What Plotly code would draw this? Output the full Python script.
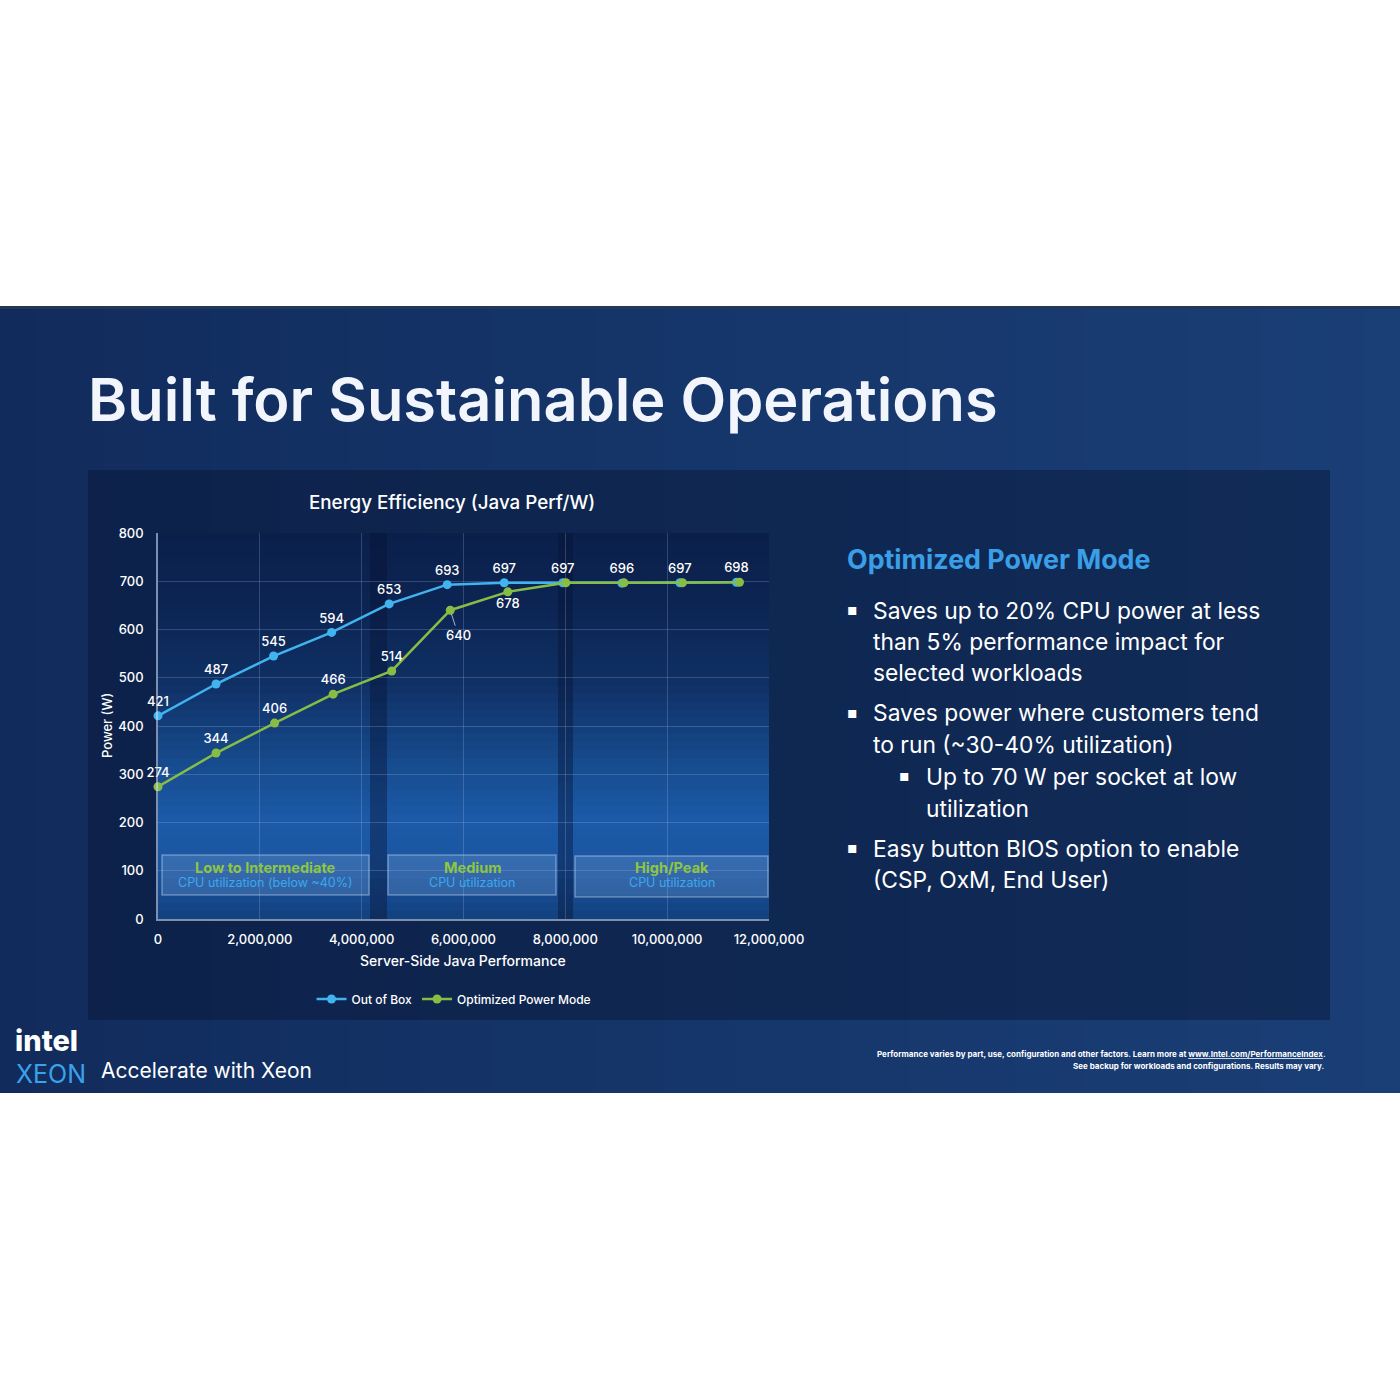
import plotly.graph_objects as go

# ---------------- data ----------------
x_out_of_box = [0, 1140000, 2270000, 3410000, 4540000, 5680000, 6800000, 7950000, 9110000, 10250000, 11360000]
y_out_of_box = [421, 487, 545, 594, 653, 693, 697, 697, 696, 697, 698]
x_opm = [0, 1140000, 2290000, 3440000, 4590000, 5740000, 6870000, 8010000, 9150000, 10300000, 11420000]
y_opm = [274, 344, 406, 466, 514, 640, 678, 697, 697, 697, 698]
opm_labels_shown = 7          # only first seven green values are labelled in the original
series_names = ["Out of Box", "Optimized Power Mode"]
x_ticks = [0, 2000000, 4000000, 6000000, 8000000, 10000000, 12000000]
y_ticks = [0, 100, 200, 300, 400, 500, 600, 700, 800]
regions = [
    ("Low to Intermediate", "CPU utilization (below ~40%)"),
    ("Medium", "CPU utilization"),
    ("High/Peak", "CPU utilization"),
]
bullets = [
    (0, ["Saves up to 20% CPU power at less", "than 5% performance impact for", "selected workloads"]),
    (0, ["Saves power where customers tend", "to run (~30-40% utilization)"]),
    (1, ["Up to 70 W per socket at low", "utilization"]),
    (0, ["Easy button BIOS option to enable", "(CSP, OxM, End User)"]),
]

W = H = 1400
BLUE = "#41b4ef"
GREEN = "#88bd45"
FONT = "Inter"


def X(p):
    return p / W


def Y(p):
    return 1 - p / H


def hex2rgb(h):
    h = h.lstrip("#")
    return tuple(int(h[i:i + 2], 16) for i in (0, 2, 4))


def interp(stops, t):
    for (t0, c0), (t1, c1) in zip(stops, stops[1:]):
        if t0 <= t <= t1:
            f = 0 if t1 == t0 else (t - t0) / (t1 - t0)
            a, b = hex2rgb(c0), hex2rgb(c1)
            return "rgb(%d,%d,%d)" % tuple(round(a[i] + (b[i] - a[i]) * f) for i in range(3))
    return stops[-1][1]


shapes = []

# slide background (horizontal gradient)
slide_top, slide_bot = 306, 1093
hstops = [(0, "#112b5c"), (700, "#15366a"), (1400, "#1a3e76")]
N = 40
for i in range(N):
    x0 = i * W / N
    x1 = (i + 1) * W / N + 1
    shapes.append(dict(type="rect", xref="paper", yref="paper", x0=X(x0), x1=X(min(x1, W)),
                       y0=Y(slide_bot), y1=Y(slide_top), fillcolor=interp(hstops, (x0 + x1) / 2),
                       line=dict(width=0), layer="below"))
shapes.append(dict(type="rect", xref="paper", yref="paper", x0=0, x1=1, y0=Y(309), y1=Y(306),
                   fillcolor="#23375a", line=dict(width=0), layer="below"))
# darker content panel
shapes.append(dict(type="rect", xref="paper", yref="paper", x0=X(88), x1=X(1330), y0=Y(1020), y1=Y(470),
                   fillcolor="rgba(6,18,48,0.42)", line=dict(width=0), layer="below"))

# plot area vertical gradient
ptop, pbot, pl, pr = 533, 919, 158, 769
vstops = [(533, "#0b1f4b"), (600, "#0c2452"), (680, "#0f2f63"), (760, "#164a8c"),
          (820, "#1c5aa8"), (870, "#1a55a0"), (919, "#12407e")]
M = 48
for i in range(M):
    y0 = ptop + i * (pbot - ptop) / M
    y1 = ptop + (i + 1) * (pbot - ptop) / M + 1
    shapes.append(dict(type="rect", xref="paper", yref="paper", x0=X(pl), x1=X(pr),
                       y0=Y(min(y1, pbot)), y1=Y(y0), fillcolor=interp(vstops, (y0 + y1) / 2),
                       line=dict(width=0), layer="below"))
# dark separator strips between utilisation zones
for a, b in [(370, 387), (558, 573)]:
    shapes.append(dict(type="rect", xref="paper", yref="paper", x0=X(a), x1=X(b), y0=Y(pbot), y1=Y(ptop),
                       fillcolor="rgba(6,20,52,0.42)", line=dict(width=0), layer="below"))

# region label boxes
boxes = [(162, 369, 855, 895), (388, 556, 855, 895), (575, 768, 856, 897)]
annotations = []
for (bx0, bx1, by0, by1), (t1, t2) in zip(boxes, regions):
    shapes.append(dict(type="rect", xref="paper", yref="paper", x0=X(bx0), x1=X(bx1), y0=Y(by1), y1=Y(by0),
                       fillcolor="rgba(150,180,225,0.22)", line=dict(color="rgba(190,210,240,0.45)", width=1.5),
                       layer="above"))
    cx = (bx0 + bx1) / 2
    annotations.append(dict(xref="paper", yref="paper", x=X(cx), y=Y(867), text=t1, showarrow=False,
                            font=dict(family=FONT, size=14.5, color="#8fc640", weight=700),
                            xanchor="center", yanchor="middle"))
    annotations.append(dict(xref="paper", yref="paper", x=X(cx), y=Y(883), text=t2, showarrow=False,
                            font=dict(family=FONT, size=12.5, color="#3aa8ef", weight=400),
                            xanchor="center", yanchor="middle"))

fig = go.Figure()
fig.add_trace(go.Scatter(
    x=x_out_of_box, y=y_out_of_box, name=series_names[0], mode="lines+markers+text",
    line=dict(color=BLUE, width=2.5), marker=dict(color=BLUE, size=9),
    text=[str(v) for v in y_out_of_box], textposition="top center",
    textfont=dict(family=FONT, size=13, color="white", weight=500), cliponaxis=False))

green_text = []
green_pos = []
for i, v in enumerate(y_opm):
    if i < opm_labels_shown and i != 5:
        green_text.append(str(v))
    else:
        green_text.append("")
    green_pos.append("top center" if i < 5 else "bottom center")
fig.add_trace(go.Scatter(
    x=x_opm, y=y_opm, name=series_names[1], mode="lines+markers+text",
    line=dict(color=GREEN, width=2.5), marker=dict(color=GREEN, size=9),
    text=green_text, textposition=green_pos,
    textfont=dict(family=FONT, size=13, color="white", weight=500), cliponaxis=False))

# 640 label with leader line
annotations.append(dict(x=x_opm[5], y=y_opm[5], xref="x", yref="y", text=str(y_opm[5]), showarrow=True,
                        arrowhead=0, arrowwidth=1, arrowcolor="rgba(200,215,235,0.8)", ax=8, ay=25, standoff=4,
                        font=dict(family=FONT, size=13, color="white", weight=500)))

# titles and texts
annotations += [
    dict(xref="paper", yref="paper", x=X(86), y=Y(399), text="Built for Sustainable Operations", showarrow=False,
         xanchor="left", yanchor="middle", font=dict(family=FONT, size=59.5, color="#f2f5fb", weight=600)),
    dict(xref="paper", yref="paper", x=X(452), y=Y(503), text="Energy Efficiency (Java Perf/W)", showarrow=False,
         xanchor="center", yanchor="middle", font=dict(family=FONT, size=18.8, color="white", weight=500)),
    dict(xref="paper", yref="paper", x=X(107), y=Y(726), text="Power (W)", showarrow=False, textangle=-90,
         xanchor="center", yanchor="middle", font=dict(family=FONT, size=13, color="white", weight=500)),
    dict(xref="paper", yref="paper", x=X(463), y=Y(960), text="Server-Side Java Performance", showarrow=False,
         xanchor="center", yanchor="middle", font=dict(family=FONT, size=14, color="white", weight=500)),
    dict(xref="paper", yref="paper", x=X(845), y=Y(559), text="Optimized Power Mode", showarrow=False,
         xanchor="left", yanchor="middle", font=dict(family=FONT, size=26.8, color="#3a9fe6", weight=700)),
]

line_y = [610, 641, 673, 713, 744, 776, 808, 848, 879]
k = 0
for level, lines in bullets:
    bx = 852 if level == 0 else 904
    tx = 871 if level == 0 else 924
    for j, ln in enumerate(lines):
        if j == 0:
            annotations.append(dict(xref="paper", yref="paper", x=X(bx), y=Y(line_y[k] - 1), text="▪",
                                    showarrow=False, xanchor="center", yanchor="middle",
                                    font=dict(family="DejaVu Sans", size=16, color="white")))
        annotations.append(dict(xref="paper", yref="paper", x=X(tx), y=Y(line_y[k]), text=ln, showarrow=False,
                                xanchor="left", yanchor="middle",
                                font=dict(family=FONT, size=22.8, color="white", weight=400)))
        k += 1

annotations += [
    dict(xref="paper", yref="paper", x=X(1328), y=Y(1054),
         text="Performance varies by part, use, configuration and other factors. Learn more at <u>www.Intel.com/PerformanceIndex</u>.",
         showarrow=False, xanchor="right", yanchor="middle",
         font=dict(family=FONT, size=8, color="white", weight=700)),
    dict(xref="paper", yref="paper", x=X(1326), y=Y(1066),
         text="See backup for workloads and configurations. Results may vary.",
         showarrow=False, xanchor="right", yanchor="middle",
         font=dict(family=FONT, size=8, color="white", weight=700)),
    dict(xref="paper", yref="paper", x=X(13), y=Y(1060), text="intel", showarrow=False,
         xanchor="left", yanchor="bottom", font=dict(family=FONT, size=29, color="white", weight=800)),
    dict(xref="paper", yref="paper", x=X(14), y=Y(1057), text="XEON", showarrow=False,
         xanchor="left", yanchor="top", font=dict(family=FONT, size=25, color="#3aa2ea", weight=400)),
    dict(xref="paper", yref="paper", x=X(99), y=Y(1070), text="Accelerate with Xeon", showarrow=False,
         xanchor="left", yanchor="middle", font=dict(family=FONT, size=21, color="white", weight=400)),
]

fig.update_layout(
    width=W, height=H, margin=dict(l=0, r=0, t=0, b=0, autoexpand=False),
    paper_bgcolor="white", plot_bgcolor="rgba(0,0,0,0)",
    font=dict(family=FONT, color="white"),
    shapes=shapes, annotations=annotations,
    showlegend=True,
    legend=dict(orientation="h", x=X(454), xanchor="center", y=Y(999), yanchor="middle",
                bgcolor="rgba(0,0,0,0)", font=dict(family=FONT, size=12, color="white", weight=500),
                itemwidth=30),
    xaxis=dict(domain=[X(pl), X(pr)], range=[0, 12000000], tickvals=x_ticks,
               ticktext=[f"{v:,}" for v in x_ticks], showgrid=True, automargin=False,
               gridcolor="rgba(190,205,235,0.22)", gridwidth=1, zeroline=False,
               showline=True, linecolor="rgba(200,215,240,0.6)", linewidth=1.5, ticks="",
               tickfont=dict(family=FONT, size=13, color="white", weight=500), ticklabelstandoff=8),
    yaxis=dict(domain=[Y(pbot), Y(ptop)], range=[0, 800], tickvals=y_ticks, showgrid=True, automargin=False,
               gridcolor="rgba(190,205,235,0.22)", gridwidth=1, zeroline=False,
               showline=True, linecolor="rgba(200,215,240,0.6)", linewidth=1.5, ticks="",
               tickfont=dict(family=FONT, size=13, color="white", weight=500), ticklabelstandoff=10),
)

fig.write_html("out.html")
